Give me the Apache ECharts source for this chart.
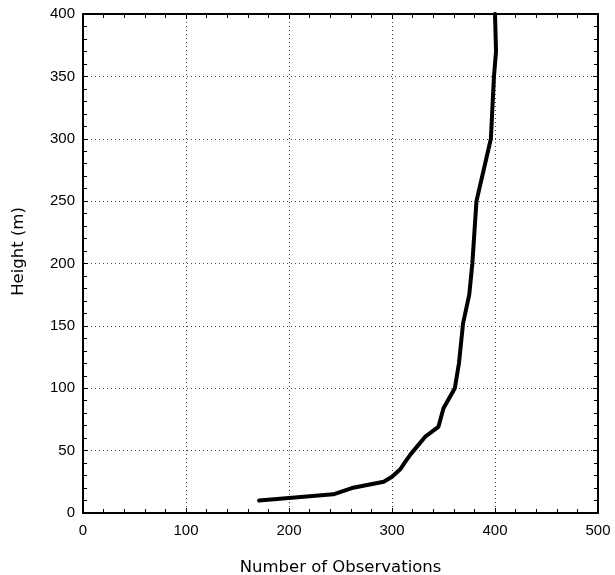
<!DOCTYPE html>
<html>
<head>
<meta charset="utf-8">
<script src="https://cdn.jsdelivr.net/npm/echarts@6/dist/echarts.min.js"></script>
<style>
html, body { margin: 0; padding: 0; background: #fff; }
#chart { width: 615px; height: 575px; }
</style>
</head>
<body>
<div id="chart"></div>
<script>
// observation counts per height level
const observations = [171, 243, 261, 292, 300, 308, 312, 318, 332, 345, 350, 361, 365, 369, 375, 378, 382, 389, 396, 399, 401, 400];
const heights = [10, 15, 20, 25, 29, 35, 40, 47, 61, 69, 84, 100, 120, 152, 175, 200, 250, 275, 300, 350, 370, 400];

const xTicks = [0, 100, 200, 300, 400, 500];
const yTicks = [0, 50, 100, 150, 200, 250, 300, 350, 400];

const FONT = "Liberation Sans";
const NAME_FONT = "DejaVu Sans";

const chart = echarts.init(document.getElementById("chart"));

function axisBase(extra) {
    return Object.assign({
        type: "value",
        axisLine: { show: true, onZero: false, lineStyle: { color: "#000", width: 2 } },
        axisTick: { show: true, inside: true, length: 5, lineStyle: { color: "#000", width: 1 } },
        minorTick: { show: true, splitNumber: 5, length: 4, lineStyle: { color: "#000", width: 1 } },
        splitLine: { show: false },
        axisLabel: { show: false }
    }, extra);
}

chart.setOption({
    animation: false,
    grid: { left: 83, right: 17, top: 14, bottom: 62, outerBoundsMode: "none", containLabel: false },
    xAxis: [
        axisBase({
            position: "bottom",
            min: xTicks[0],
            max: xTicks[xTicks.length - 1],
            interval: 100,
            name: "Number of Observations",
            nameLocation: "middle",
            nameGap: 46,
            nameTextStyle: { fontFamily: NAME_FONT, fontSize: 16.5, color: "#000" },
            axisLabel: { show: true, margin: 10, fontFamily: FONT, fontSize: 15, color: "#000" },
            splitLine: { show: true, lineStyle: { color: "#444", width: 1, type: [1, 3] } }
        }),
        axisBase({
            position: "top",
            min: xTicks[0],
            max: xTicks[xTicks.length - 1],
            interval: 100
        })
    ],
    yAxis: [
        axisBase({
            position: "left",
            min: yTicks[0],
            max: yTicks[yTicks.length - 1],
            interval: 50,
            name: "Height (m)",
            nameLocation: "middle",
            nameGap: 56,
            nameTextStyle: { fontFamily: NAME_FONT, fontSize: 16.5, color: "#000", padding: [0, 0, 0, 24] },
            axisLabel: { show: true, margin: 8, fontFamily: FONT, fontSize: 15, color: "#000" },
            splitLine: { show: true, lineStyle: { color: "#444", width: 1, type: [1, 3] } }
        }),
        axisBase({
            position: "right",
            min: yTicks[0],
            max: yTicks[yTicks.length - 1],
            interval: 50
        })
    ],
    series: [{
        type: "line",
        xAxisIndex: 0,
        yAxisIndex: 0,
        showSymbol: false,
        data: observations.map((x, i) => [x, heights[i]]),
        lineStyle: { color: "#000", width: 4, join: "round", cap: "round" }
    }]
});

window.addEventListener("resize", () => chart.resize());
</script>
</body>
</html>
